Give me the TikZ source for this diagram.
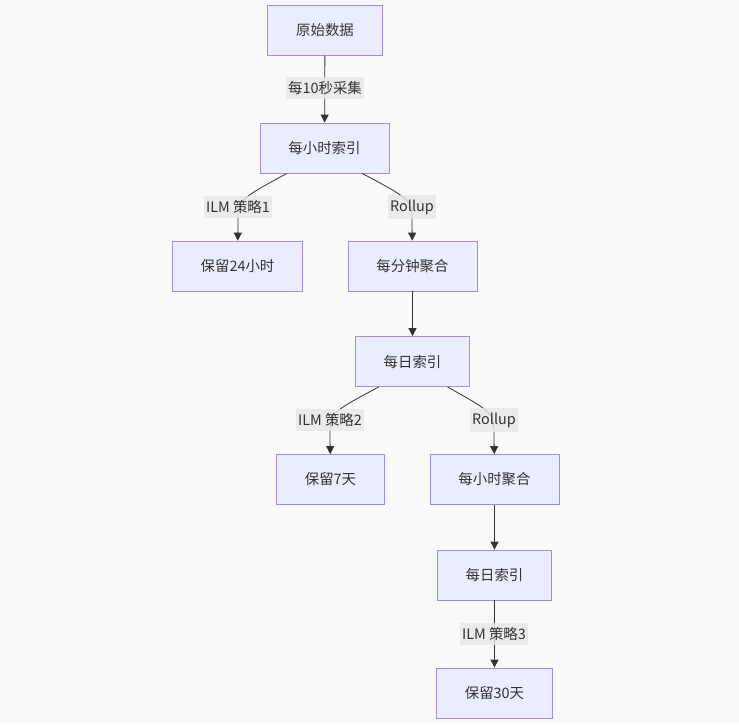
\documentclass[tikz,border=0pt]{standalone}
\usepackage{fontspec}
\setmainfont{Noto Sans CJK SC}
\usetikzlibrary{arrows.meta}
\definecolor{pagebg}{HTML}{F9F9F9}
\definecolor{nodefill}{HTML}{ECECFF}
\definecolor{nodeline}{HTML}{A58BDD}
\definecolor{edgeline}{HTML}{333333}
\definecolor{lblfill}{HTML}{E8E8E8}

\begin{document}
\begin{tikzpicture}[
  x=0.02cm, y=-0.02cm,
  stage/.style={draw=nodeline, fill=nodefill, line width=0.45pt, minimum height=1cm, inner xsep=0.57cm, font=\fontsize{8.2}{10}\selectfont, text=edgeline},
  elabel/.style={fill=lblfill, fill opacity=0.8, text opacity=1, inner xsep=1pt, inner ysep=2.5pt, font=\fontsize{8.2}{10}\selectfont, text=edgeline},
  arrow/.style={-{Triangle[length=1.6mm,width=1.6mm]}, line width=0.45pt, color=edgeline},
]

\fill[pagebg] (0,0) rectangle (739,724);
\useasboundingbox (0,0) rectangle (739,724);

\node[stage] (raw) at (325,30) {原始数据};
\node[stage] (hidx) at (324.5,148) {每小时索引};
\node[stage] (keep24) at (237.5,266) {保留24小时};
\node[stage] (minagg) at (412.5,266) {每分钟聚合};
\node[stage] (didx) at (412.5,361.5) {每日索引};
\node[stage] (keep7) at (330.5,479.5) {保留7天};
\node[stage] (hagg) at (494.5,479.5) {每小时聚合};
\node[stage] (didx2) at (494.5,575) {每日索引};
\node[stage] (keep30) at (494.5,693) {保留30天};

\draw[arrow] (raw) -- (hidx);
\draw[arrow] (hidx.-146) .. controls (238,200) .. (238,222) -- (keep24);
\draw[arrow] (hidx.-34) .. controls (412,200) .. (412,222) -- (minagg);
\draw[arrow] (minagg) -- (didx);
\draw[arrow] (didx.-143) .. controls (330,413) .. (330,435) -- (keep7);
\draw[arrow] (didx.-36) .. controls (494,413) .. (494,435) -- (hagg);
\draw[arrow] (hagg) -- (didx2);
\draw[arrow] (didx2) -- (keep30);

\node[elabel] (l0) at (325,88) {每10秒采集};
\node[elabel] (l1) at (238,207) {ILM 策略1};
\node[elabel] (l2) at (412,207) {Rollup};
\node[elabel] (l3) at (330,420) {ILM 策略2};
\node[elabel] (l4) at (494,420) {Rollup};
\node[elabel] (l5) at (494,634) {ILM 策略3};

\end{tikzpicture}
\end{document}
